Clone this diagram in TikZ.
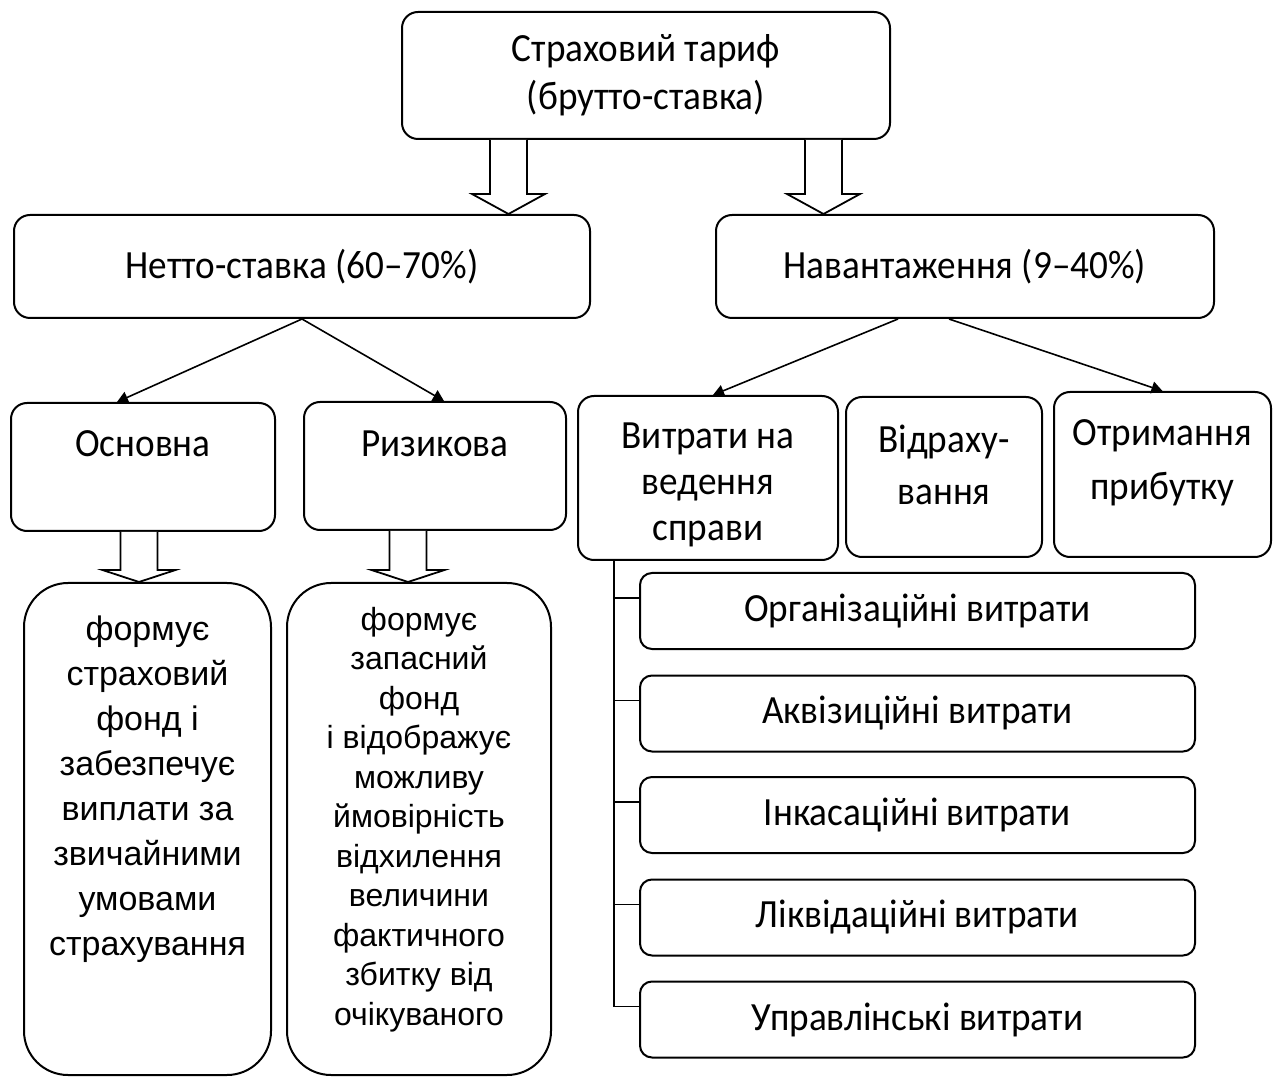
\documentclass[tikz,border=0pt]{standalone}
\usepackage{fontspec}
\setmainfont{Carlito}[FakeStretch=0.93]
\newfontfamily\arialfont{Liberation Sans}
\usetikzlibrary{arrows.meta,calc}

% hollow block arrow: base point, tip point, head length
\newcommand{\hollowarrow}[3]{%
  \draw [hollow] ($(#1)+(-18.5,0)$) -- ($(#2)+(-18.5,-#3)$) -- ($(#2)+(-36.5,-#3)$)
    -- (#2) -- ($(#2)+(36.5,-#3)$) -- ($(#2)+(18.5,-#3)$) -- ($(#1)+(18.5,0)$);}

\tikzset{
  box/.style={draw, line width=1pt, rounded corners=8pt, align=center, inner sep=0pt,
    font=\fontsize{20}{24}\selectfont},
  subbox/.style={box, rounded corners=6pt, minimum width=277.5pt, minimum height=38pt},
  fundbox/.style={box, rounded corners=22pt, minimum height=246pt, inner ysep=0pt},
  hollow/.style={line width=0.9pt, fill=white},
  link/.style={line width=0.8pt, -{Triangle[length=5.5pt,width=6pt]}},
  tree/.style={line width=0.8pt}
}

\begin{document}
\begin{tikzpicture}[x=0.5pt,y=-0.5pt]
    \useasboundingbox (0,0) rectangle (1274,1079);

    % top level
    \node [box, minimum width=244pt, minimum height=63.5pt] (tarif) at (646,75.5)
        {Страховий тариф\\(брутто-ставка)};
    \node [box, minimum width=288pt, minimum height=51.5pt] (netto) at (302,266.5)
        {Нетто-ставка (60–70\%)};
    \node [box, minimum width=249pt, minimum height=51.5pt] (nav) at (965,266.5)
        {Навантаження (9–40\%)};

    \coordinate (ax1) at (508.5,0);
    \coordinate (ax2) at (823.5,0);
    \hollowarrow{tarif.south -| ax1}{netto.north -| ax1}{20}
    \hollowarrow{tarif.south -| ax2}{nav.north -| ax2}{20}

    % netto-stavka
    \node [box, minimum width=132pt, minimum height=64pt] (osn) at (143,467)
        {\parbox[c][36pt][t]{120pt}{\centering Основна}};
    \node [box, minimum width=131pt, minimum height=64pt] (ryz) at (435,466)
        {\parbox[c][35pt][t]{120pt}{\centering Ризикова}};
    \draw [link] (netto.south) -- ($(osn.north)+(-26,0)$);
    \draw [link] (netto.south) -- ($(ryz.north)+(9,0)$);

    \node [fundbox, minimum width=123.5pt] (fund1) at (147.5,829)
        {\parbox[c][213pt][t]{118pt}{\centering\arialfont\fontsize{17}{22.5}\selectfont
        формує\\страховий\\фонд і\\забезпечує\\виплати за\\звичайними\\умовами\\страхування}};
    \node [fundbox, minimum width=132pt] (fund2) at (419,829)
        {\parbox[c][222pt][t]{126pt}{\centering\arialfont\fontsize{16}{19.75}\selectfont
        формує\\запасний\\фонд\\і відображує\\можливу\\ймовірність\\відхилення\\величини\\фактичного\\збитку від\\очікуваного}};

    \coordinate (ax3) at (139,0);
    \coordinate (ax4) at (408,0);
    \hollowarrow{osn.south -| ax3}{fund1.north -| ax3}{12}
    \hollowarrow{ryz.south -| ax4}{fund2.north -| ax4}{12}

    % navantazhennya
    \node [box, minimum width=130pt, minimum height=82pt] (vyt) at (708,478)
        {\parbox[c][55pt][t]{124pt}{\centering\baselineskip=23pt Витрати на\\ведення\\справи}};
    \node [box, minimum width=98pt, minimum height=80pt] (vid) at (944,477)
        {\parbox[c][52pt][t]{90pt}{\centering\baselineskip=26pt Відраху-\\вання}};
    \node [box, minimum width=108.5pt, minimum height=82.5pt] (otr) at (1162.5,474.5)
        {\parbox[c][54.5pt][t]{104pt}{\centering\baselineskip=27pt Отримання\\прибутку}};
    \draw [link] ($(nav.south)+(-67,0)$) -- ($(vyt.north)+(5,0)$);
    \draw [link] ($(nav.south)+(-16,0)$) -- (otr.north);

    \node [subbox] (org) at (917.5,611) {Організаційні витрати};
    \node [subbox] (akv) at (917.5,713.5) {Аквізиційні витрати};
    \node [subbox] (ink) at (917.5,815) {Інкасаційні витрати};
    \node [subbox] (lik) at (917.5,917.5) {Ліквідаційні витрати};
    \node [subbox] (upr) at (917.5,1019.5) {Управлінські витрати};

    \coordinate (sx) at (614,0);
    \coordinate (spine) at (vyt.south -| sx);
    \draw [tree] ($(org.west)+(0,-13)$) -| (spine);
    \draw [tree] ($(akv.west)+(0,-13)$) -| (spine);
    \draw [tree] ($(ink.west)+(0,-13)$) -| (spine);
    \draw [tree] ($(lik.west)+(0,-13)$) -| (spine);
    \draw [tree] ($(upr.west)+(0,-13)$) -| (spine);
\end{tikzpicture}
\end{document}
